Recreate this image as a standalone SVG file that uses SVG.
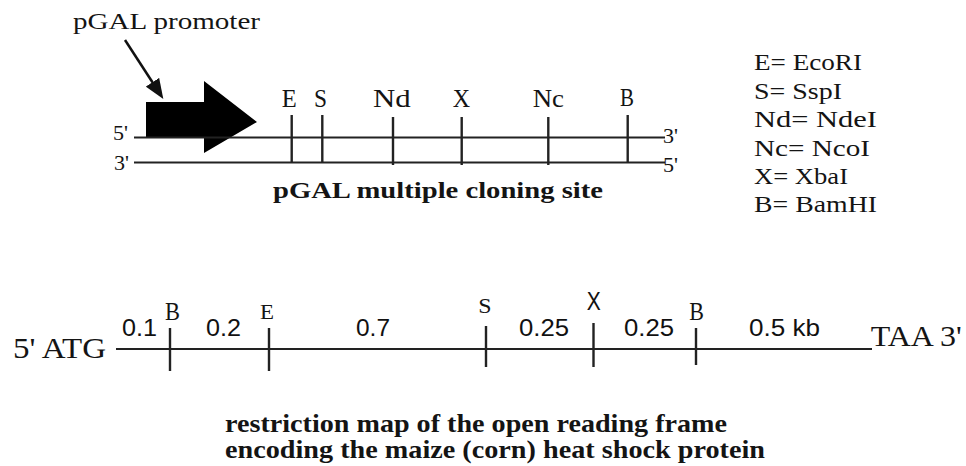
<svg xmlns="http://www.w3.org/2000/svg" width="966" height="466" viewBox="0 0 966 466">
<style>
.s{font-family:"Liberation Serif","Times New Roman",serif;fill:#141414}
.b{font-weight:bold}
.n{font-family:"Liberation Sans",Arial,sans-serif;fill:#111}
.ln{stroke:#222;stroke-width:2;fill:none}
.tk{stroke:#222;stroke-width:2.4;fill:none}
</style>
<defs>
<marker id="ah" markerUnits="userSpaceOnUse" markerWidth="20" markerHeight="16" refX="15" refY="8" orient="auto">
<path d="M0,0 L20,8 L0,16 z" fill="#111"/>
</marker>
</defs>
<rect width="966" height="466" fill="#fff"/>

<g id="promoter-label">
<text class="s" x="73" y="29" font-size="24" textLength="187" lengthAdjust="spacingAndGlyphs">pGAL promoter</text>
</g>

<g id="promoter">
<polygon points="146,102 204,102 204,81 257,122 204,153 204,137 146,137" fill="#000"/>
</g>

<g id="mcs">
<line class="ln" x1="134" y1="137.5" x2="665" y2="137.5"/>
<line class="ln" x1="134" y1="162.5" x2="665" y2="162.5"/>
<text class="s" x="113" y="140" font-size="22">5'</text>
<text class="s" x="114" y="170" font-size="22">3'</text>
<text class="s" x="663" y="143" font-size="22">3'</text>
<text class="s" x="663" y="172" font-size="22">5'</text>
<line class="tk" x1="291.7" y1="115" x2="291.7" y2="163"/>
<line class="tk" x1="322.3" y1="115" x2="322.3" y2="163"/>
<line class="tk" x1="393" y1="117" x2="393" y2="165"/>
<line class="tk" x1="461.7" y1="117" x2="461.7" y2="165"/>
<line class="tk" x1="548.3" y1="117" x2="548.3" y2="165"/>
<line class="tk" x1="627.7" y1="115" x2="627.7" y2="163"/>
<text class="s" x="281.7" y="107" font-size="25" textLength="15" lengthAdjust="spacingAndGlyphs">E</text>
<text class="s" x="314" y="107" font-size="25" textLength="13" lengthAdjust="spacingAndGlyphs">S</text>
<text class="s" x="373" y="107" font-size="25" textLength="37.7" lengthAdjust="spacingAndGlyphs">Nd</text>
<text class="s" x="452.7" y="107" font-size="25" textLength="17.3" lengthAdjust="spacingAndGlyphs">X</text>
<text class="s" x="532.7" y="107" font-size="25" textLength="31.3" lengthAdjust="spacingAndGlyphs">Nc</text>
<text class="s" x="620" y="106" font-size="25" textLength="14" lengthAdjust="spacingAndGlyphs">B</text>
<text class="s b" x="273" y="198" font-size="24" textLength="330" lengthAdjust="spacingAndGlyphs">pGAL multiple cloning site</text>
</g>

<g id="legend">
<text class="s" x="754" y="70" font-size="23" textLength="108" lengthAdjust="spacingAndGlyphs">E= EcoRI</text>
<text class="s" x="754" y="99" font-size="23" textLength="88" lengthAdjust="spacingAndGlyphs">S= SspI</text>
<text class="s" x="754" y="127" font-size="23" textLength="123" lengthAdjust="spacingAndGlyphs">Nd= NdeI</text>
<text class="s" x="754" y="156" font-size="23" textLength="116" lengthAdjust="spacingAndGlyphs">Nc= NcoI</text>
<text class="s" x="754" y="184" font-size="23" textLength="94" lengthAdjust="spacingAndGlyphs">X= XbaI</text>
<text class="s" x="754" y="212" font-size="23" textLength="123" lengthAdjust="spacingAndGlyphs">B= BamHI</text>
</g>

<g id="orf-map">
<line class="ln" x1="116" y1="349" x2="872" y2="349"/>
<text class="s" x="13" y="358" font-size="29" textLength="93" lengthAdjust="spacingAndGlyphs">5' ATG</text>
<text class="s" x="870.7" y="346" font-size="29" textLength="91" lengthAdjust="spacingAndGlyphs">TAA 3'</text>
<line class="tk" x1="170" y1="328" x2="170" y2="371"/>
<line class="tk" x1="269" y1="328" x2="269" y2="371"/>
<line class="tk" x1="486" y1="326" x2="486" y2="367"/>
<line class="tk" x1="593.5" y1="323" x2="593.5" y2="367"/>
<line class="tk" x1="696" y1="328" x2="696" y2="365"/>
<text class="s" x="165" y="320" font-size="25" textLength="15" lengthAdjust="spacingAndGlyphs">B</text>
<text class="s" x="260" y="319" font-size="22" textLength="14" lengthAdjust="spacingAndGlyphs">E</text>
<text class="s" x="478.3" y="313" font-size="22" textLength="13.3" lengthAdjust="spacingAndGlyphs">S</text>
<text class="n" x="586.7" y="310" font-size="25" textLength="14" lengthAdjust="spacingAndGlyphs">X</text>
<text class="s" x="689.3" y="320" font-size="25" textLength="14.7" lengthAdjust="spacingAndGlyphs">B</text>
<text class="n" x="122" y="336" font-size="24" textLength="35" lengthAdjust="spacingAndGlyphs">0.1</text>
<text class="n" x="206" y="336" font-size="24" textLength="35" lengthAdjust="spacingAndGlyphs">0.2</text>
<text class="n" x="356" y="336" font-size="24" textLength="34" lengthAdjust="spacingAndGlyphs">0.7</text>
<text class="n" x="519" y="336" font-size="24" textLength="50" lengthAdjust="spacingAndGlyphs">0.25</text>
<text class="n" x="624" y="336" font-size="24" textLength="50" lengthAdjust="spacingAndGlyphs">0.25</text>
<text class="n" x="749" y="336" font-size="24" textLength="71" lengthAdjust="spacingAndGlyphs">0.5 kb</text>
</g>

<g id="caption">
<text class="s b" x="225" y="432" font-size="25" textLength="502" lengthAdjust="spacingAndGlyphs">restriction map of the open reading frame</text>
<text class="s b" x="225" y="458" font-size="25" textLength="540" lengthAdjust="spacingAndGlyphs">encoding the maize (corn) heat shock protein</text>
</g>

<g id="connectors">
<line x1="125" y1="40" x2="160.6" y2="94.8" stroke="#111" stroke-width="2.5" marker-end="url(#ah)"/>
</g>
</svg>
